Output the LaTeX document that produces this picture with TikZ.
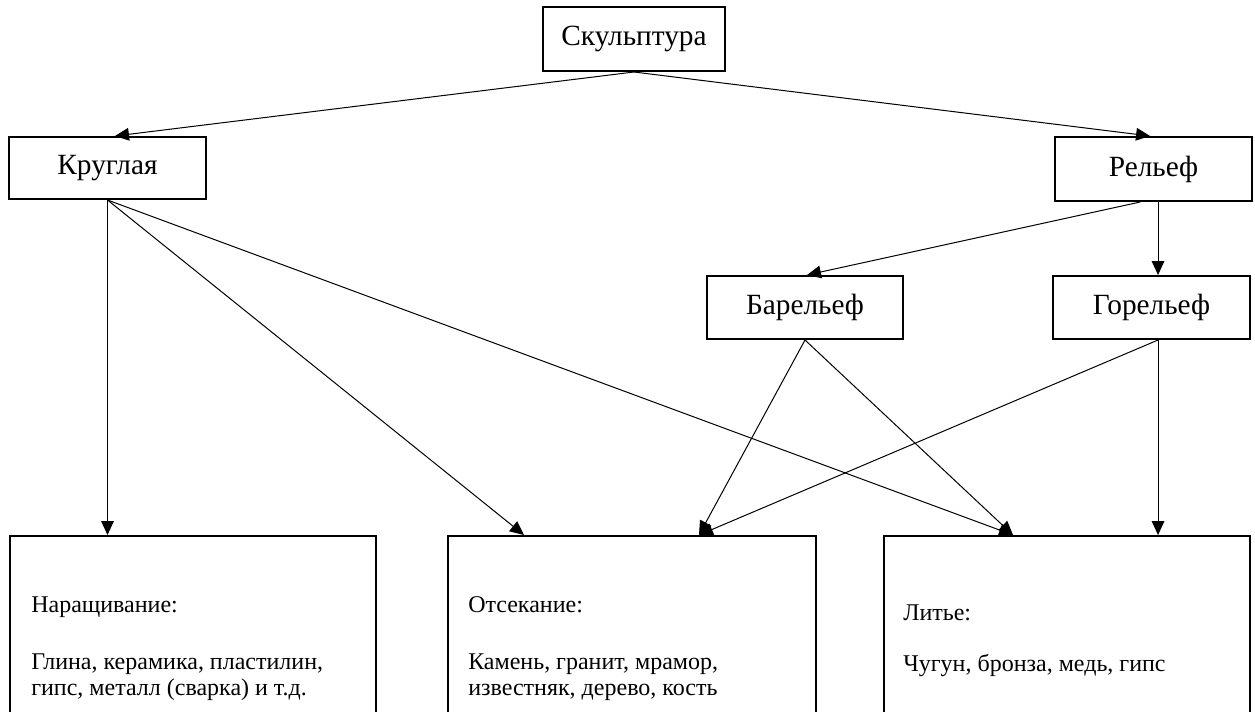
\documentclass[tikz,border=0pt]{standalone}
\usepackage{fontspec}
\setmainfont{Liberation Serif}
\usetikzlibrary{arrows.meta}
\begin{document}
\begin{tikzpicture}[x=0.75pt,y=-0.75pt,
  nbox/.style={draw, line width=1.5pt, inner sep=0pt, font=\fontsize{22}{26}\selectfont},
  bbox/.style={draw, line width=1.5pt, inner sep=0pt, anchor=north west, minimum height=187.5pt},
  txt/.style={anchor=base west, inner sep=0pt, font=\fontsize{18}{21}\selectfont},
  con/.style={line width=0.75pt, -{Triangle[length=10.5pt,width=9.5pt]}}]
\useasboundingbox (0,0) rectangle (1255,711);
\clip (0,0) rectangle (1255,711);
\fill[white] (0,0) rectangle (1255,711);
% top level nodes
\node[nbox, minimum width=136.5pt, minimum height=48pt] (sk) at (634,39) {Скульптура};
\node[nbox, minimum width=147.75pt, minimum height=46.5pt] (kr) at (107.5,168) {Круглая};
\node[nbox, minimum width=147.75pt, minimum height=48pt] (rel) at (1153.5,169) {Рельеф};
\node[nbox, minimum width=147pt, minimum height=47.25pt] (bar) at (805,307.5) {Барельеф};
\node[nbox, minimum width=147.75pt, minimum height=47.25pt] (gor) at (1151.5,307.5) {Горельеф};
% bottom boxes
\node[bbox, minimum width=274.5pt] (b1) at (9,535) {};
\node[bbox, minimum width=276pt] (b2) at (447,535) {};
\node[bbox, minimum width=274.5pt] (b3) at (883,535) {};
% texts
\node[txt] (t1a) at (31,612) {Наращивание:};
\node[txt] (t1b) at (31,669) {Глина, керамика, пластилин,};
\node[txt] (t1c) at (31,695) {гипс, металл (сварка) и т.д.};
\node[txt] (t2a) at (468,612) {Отсекание:};
\node[txt] (t2b) at (468,669) {Камень, гранит, мрамор,};
\node[txt] (t2c) at (468,695) {известняк, дерево, кость};
\node[txt] (t3a) at (903,620) {Литье:};
\node[txt] (t3b) at (903,671) {Чугун, бронза, медь, гипс};
% connectors
\draw[con] (sk.south) -- ([xshift=5.6pt]kr.north);
\draw[con] (sk.south) -- ([xshift=-2.6pt]rel.north);
\draw[con] (kr.south) -- (kr.south |- b1.north);
\draw[con] (kr.south) -- ([xshift=57.75pt]b2.north west);
\draw[con] (kr.south) -- ([xshift=97.5pt]b3.north west);
\draw[con] ([xshift=-10pt]rel.south) -- ([xshift=1.5pt]bar.north);
\draw[con] ([xshift=3.4pt]rel.south) -- ([xshift=3.4pt]rel.south |- gor.north);
\draw[con] (bar.south) -- ([xshift=189pt]b2.north west);
\draw[con] (bar.south) -- ([xshift=97.5pt]b3.north west);
\draw[con] ([xshift=4.9pt]gor.south) -- ([xshift=189pt]b2.north west);
\draw[con] ([xshift=4.9pt]gor.south) -- ([xshift=4.9pt]gor.south |- b3.north);
\end{tikzpicture}
\end{document}
